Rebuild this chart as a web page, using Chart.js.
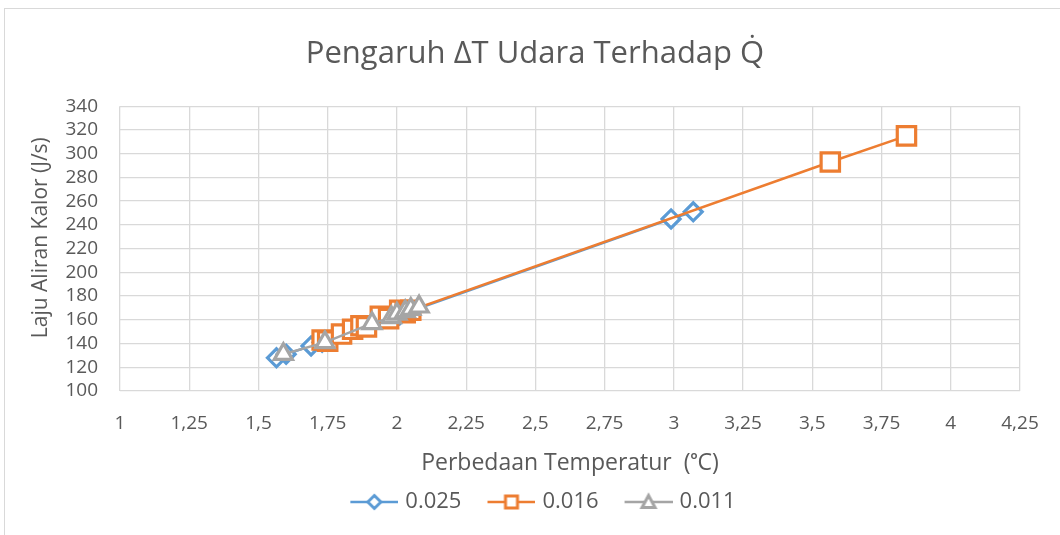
<!DOCTYPE html>
<html>
<head>
<meta charset="utf-8">
<script src="https://cdn.jsdelivr.net/npm/chart.js@4.4.1/dist/chart.umd.min.js"></script>
<style>
  body { margin: 0; background: #fff; }
  #wrap { position: relative; width: 1060px; height: 535px; }
  #frame { position: absolute; left: 4px; top: 8px; right: -2px; bottom: -2px; border: 1px solid #d9d9d9; }
  canvas { position: absolute; left: 0; top: 0; }
</style>
</head>
<body>
<div id="wrap">
  <div id="frame"></div>
  <canvas id="chart" width="1060" height="535"></canvas>
</div>
<script>
/* data: [delta T (C), Q (J/s)] */
const seriesNames = ['0.025', '0.016', '0.011'];
const seriesColors = ['#5B9BD5', '#ED7D31', '#A5A5A5'];
const seriesMarkers = ['rectRot', 'rect', 'triangle'];

const data_025 = [
    {x: 1.565, y: 128}, {x: 1.60, y: 131}, {x: 1.69, y: 138}, {x: 1.73, y: 141},
    {x: 1.99, y: 162}, {x: 2.01, y: 164}, {x: 2.99, y: 245}, {x: 3.07, y: 251}
];
const data_016 = [
    {x: 1.73, y: 143}, {x: 1.75, y: 142}, {x: 1.80, y: 148}, {x: 1.84, y: 152},
    {x: 1.87, y: 155}, {x: 1.89, y: 154}, {x: 1.94, y: 163}, {x: 1.97, y: 161},
    {x: 2.01, y: 168}, {x: 2.03, y: 166}, {x: 2.05, y: 168}, {x: 3.565, y: 293},
    {x: 3.84, y: 315}
];
const data_011 = [
    {x: 1.59, y: 131}, {x: 1.74, y: 141}, {x: 1.91, y: 157}, {x: 1.98, y: 162},
    {x: 2.00, y: 165}, {x: 2.03, y: 167}, {x: 2.05, y: 169}, {x: 2.08, y: 171}
];

const xMin = 1, xMax = 4.25, xStep = 0.25;
const yMin = 100, yMax = 340, yStep = 20;

const FONT = '"Open Sans", Lato, sans-serif';
const TXT = '#595959';

// legend glyph: line with the marker in the middle
// image is 68 wide for a 60 wide legend box, glyph pushed to the right end
function legendGlyph(color, style) {
    const c = document.createElement('canvas');
    c.width = 68; c.height = 20;
    const g = c.getContext('2d');
    g.translate(20, 0);
    g.strokeStyle = color;
    g.lineWidth = 2.5;
    g.beginPath(); g.moveTo(0, 10); g.lineTo(48, 10); g.stroke();
    g.fillStyle = '#fff';
    g.lineWidth = 3;
    g.beginPath();
    if (style === 'rectRot') {
        g.moveTo(24, 3.5); g.lineTo(30.5, 10); g.lineTo(24, 16.5); g.lineTo(17.5, 10); g.closePath();
    } else if (style === 'rect') {
        g.rect(18, 4, 12, 12);
    } else {
        g.moveTo(24, 3.5); g.lineTo(30.5, 15.5); g.lineTo(17.5, 15.5); g.closePath();
    }
    g.fill(); g.stroke();
    return c;
}

const radii = [9, 13, 10.5];
const allData = [data_025, data_016, data_011];

const ctx = document.getElementById('chart').getContext('2d');
const chart = new Chart(ctx, {
    type: 'scatter',
    data: {
        datasets: allData.map((d, i) => ({
            label: seriesNames[i],
            data: d,
            showLine: true,
            borderColor: seriesColors[i],
            borderWidth: 2.5,
            pointStyle: seriesMarkers[i],
            pointRadius: radii[i],
            pointBorderWidth: 3.2,
            pointBackgroundColor: '#fff',
            pointBorderColor: seriesColors[i],
            order: 3 - i
        }))
    },
    options: {
        responsive: false,
        animation: false,
        layout: { padding: { left: 50, right: 40, top: 10, bottom: 12 } },
        plugins: {
            tooltip: { enabled: false },
            title: {
                display: true,
                text: 'Pengaruh ΔT Udara Terhadap Q̇',
                color: TXT,
                font: { family: FONT, size: 31, weight: 'normal' },
                padding: { top: 26, bottom: 33 }
            },
            legend: {
                position: 'bottom',
                labels: {
                    usePointStyle: true,
                    pointStyleWidth: 60,
                    padding: 10,
                    color: TXT,
                    font: { family: FONT, size: 22 },
                    generateLabels: (c) => c.data.datasets.map((ds, i) => ({
                        text: ds.label,
                        fontColor: TXT,
                        pointStyle: legendGlyph(seriesColors[i], seriesMarkers[i]),
                        datasetIndex: i,
                        lineWidth: 0,
                        strokeStyle: 'transparent',
                        fillStyle: 'transparent'
                    }))
                }
            }
        },
        scales: {
            x: {
                type: 'linear',
                min: xMin, max: xMax,
                border: { display: false },
                grid: { color: '#d9d9d9', lineWidth: 1.3, drawTicks: false },
                ticks: {
                    stepSize: xStep,
                    autoSkip: false,
                    maxRotation: 0,
                    padding: 21,
                    color: TXT,
                    font: { family: FONT, size: 19 },
                    callback: (v) => String(v).replace('.', ',')
                },
                title: {
                    display: true,
                    text: 'Perbedaan Temperatur  (ᵒC)',
                    color: TXT,
                    font: { family: FONT, size: 23 },
                    padding: { top: 0, bottom: 4 }
                },
                afterFit: (s) => { s.height = 90; }
            },
            y: {
                min: yMin, max: yMax,
                border: { display: false },
                grid: { color: '#d9d9d9', lineWidth: 1.3, drawTicks: false },
                ticks: {
                    stepSize: yStep,
                    autoSkip: false,
                    padding: 22,
                    color: TXT,
                    font: { family: FONT, size: 19 }
                },
                title: {
                    display: true,
                    text: '    Laju Aliran Kalor (J/s)',
                    color: TXT,
                    font: { family: FONT, size: 21 },
                    padding: { top: -22, bottom: 0 }
                },
                afterFit: (s) => { s.width = 70; }
            }
        }
    }
});
</script>
</body>
</html>
